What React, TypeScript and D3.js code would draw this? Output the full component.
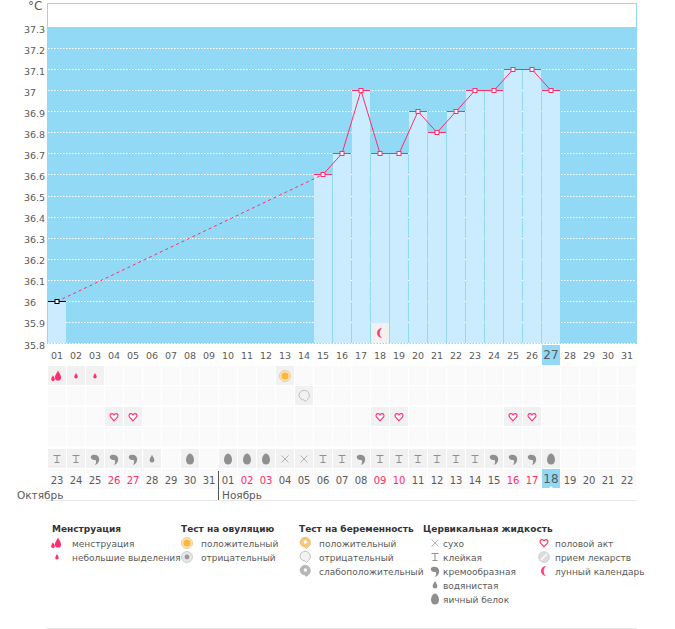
import React from "react";
import * as d3 from "d3";

const days = d3.range(1, 32);
const dayLabels = days.map(d => String(d).padStart(2, "0"));
const yTicks = [37.3, 37.2, 37.1, 37, 36.9, 36.8, 36.7, 36.6, 36.5, 36.4, 36.3, 36.2, 36.1, 36, 35.9, 35.8];

// measured temperatures, only on the days that have one
const tempDays = [1, 15, 16, 17, 18, 19, 20, 21, 22, 23, 24, 25, 26, 27];
const tempValues = [36, 36.6, 36.7, 37, 36.7, 36.7, 36.9, 36.8, 36.9, 37, 37, 37.1, 37.1, 37];

const calendarLabels = ["23", "24", "25", "26", "27", "28", "29", "30", "31", "01", "02", "03", "04", "05", "06", "07", "08", "09", "10", "11", "12", "13", "14", "15", "16", "17", "18", "19", "20", "21", "22"];
const redDays = [4, 5, 11, 12, 18, 19, 25, 26];
const todayDay = 27;
const moonDay = 18;

const row1Icons: [number, string][] = [[1, "flow"], [2, "spot"], [3, "spot"], [13, "ovuPos"]];
const row2Icons: [number, string][] = [[14, "pregNeg"]];
const row3Icons: [number, string][] = [[4, "heart"], [5, "heart"], [18, "heart"], [19, "heart"], [25, "heart"], [26, "heart"]];
const row4Icons: [number, string][] = [];
const row5Icons: [number, string][] = [
  [1, "sticky"], [2, "sticky"], [3, "creamy"], [4, "creamy"], [5, "creamy"], [6, "watery"], [8, "egg"],
  [10, "egg"], [11, "egg"], [12, "egg"], [13, "dry"], [14, "dry"], [15, "sticky"], [16, "sticky"], [17, "creamy"],
  [18, "sticky"], [19, "sticky"], [20, "sticky"], [21, "sticky"], [22, "sticky"], [23, "sticky"], [24, "creamy"],
  [25, "creamy"], [26, "creamy"], [27, "egg"],
];

const legendHeads = ["Менструация", "Тест на овуляцию", "Тест на беременность", "Цервикальная жидкость"];
const legendCols: [string, string][][] = [
  [["flow", "менструация"], ["spot", "небольшие выделения"]],
  [["ovuPos", "положительный"], ["ovuNeg", "отрицательный"]],
  [["pregPos", "положительный"], ["pregNeg", "отрицательный"], ["pregWeak", "слабоположительный"]],
  [["dry", "сухо"], ["sticky", "клейкая"], ["creamy", "кремообразная"], ["watery", "водянистая"], ["egg", "яичный белок"]],
  [["heart", "половой акт"], ["pill", "прием лекарств"], ["moon", "лунный календарь"]],
];

const W = 675;
const H = 629;
const BLUE = "#92d9f5";
const BAR = "#cbecfe";
const PINK = "#ff2d6b";
const TEXT = "#5a5a5a";
const GREY = "#8f8f8f";
const FONT = "'DejaVu Sans', sans-serif";

const x = d3.scaleBand<number>().domain(days).range([47, 636]);
const y = d3.scaleLinear().domain([35.8, 37.3]).range([343, 27]);
const cx = (d: number) => (x(d) as number) + 10;
const crisp = (v: number) => Math.round(v) + 0.5;

const line = d3.line<number>()
  .x((_, i) => cx(tempDays[i]))
  .y(v => crisp(y(v)));

const rowTops = [366, 386, 407, 427, 449];
const rowIcons = [row1Icons, row2Icons, row3Icons, row4Icons, row5Icons];
const dateTop = 469;
const legendX = [52, 181, 299, 423];
const legendIconX = [57, 187, 305, 435, 544];
const legendTextX = [72, 201, 319, 443, 555];
const legendRows = d3.scalePoint<number>().domain(d3.range(5)).range([543, 599]);

const dropPath = "M0,-5 C1,-2.5 2.8,-1 2.8,1.4 A2.8,2.8 0 0 1 -2.8,1.4 C-2.8,-1 -1,-2.5 0,-5Z";

function Icon({ kind, px, py }: { kind: string; px: number; py: number }) {
  const t = `translate(${px},${py})`;
  switch (kind) {
    case "flow":
      return (
        <g transform={t} fill={PINK}>
          <path d={dropPath} transform="translate(1,0) scale(1.1)" />
          <path d={dropPath} transform="translate(-4,2.4) scale(0.65)" />
        </g>
      );
    case "spot":
      return <path transform={`${t} scale(0.62)`} fill={PINK} d={dropPath} />;
    case "ovuPos":
      return (
        <g transform={t}>
          <circle r={5.5} fill="#fbe6bd" stroke="#e2c58e" strokeWidth={0.8} />
          <circle r={3.6} fill="#fbb73e" />
        </g>
      );
    case "ovuNeg":
      return (
        <g transform={t}>
          <circle r={5.5} fill="#e6e6e6" stroke="#c4c4c4" strokeWidth={0.8} />
          <circle r={2.4} fill="#9a9a9a" />
        </g>
      );
    case "pregPos":
    case "pregNeg":
    case "pregWeak": {
      const fill = kind === "pregPos" ? "#fbc878" : kind === "pregWeak" ? "#b5b5b5" : "#f2f2f2";
      const stroke = kind === "pregPos" ? "#dcbb84" : "#b9b9b9";
      return (
        <g transform={t}>
          <path d="M-5,-1 A5.2,5.2 0 1 1 3.5,3.5 L1.5,5.5 L0,4 A5.2,5.2 0 0 1 -5,-1Z" fill={fill} stroke={stroke} strokeWidth={0.9} />
          {kind !== "pregNeg" && <circle r={1.8} cx={0.4} cy={-1} fill="#fff" />}
        </g>
      );
    }
    case "heart":
      return (
        <path
          transform={t}
          fill="#fff"
          stroke={PINK}
          strokeWidth={1.1}
          d="M0,3.8 L-3.4,0.2 C-4.8,-1.6 -3.6,-3.4 -2,-3.4 C-1,-3.4 -0.3,-2.8 0,-2.1 C0.3,-2.8 1,-3.4 2,-3.4 C3.6,-3.4 4.8,-1.6 3.4,0.2Z"
        />
      );
    case "moon":
      return <path transform={t} fill={PINK} opacity={0.9} d="M2,-5 A5,5 0 1 0 2,5 A6.5,6.5 0 0 1 2,-5Z" />;
    case "pill":
      return (
        <g transform={t}>
          <circle r={5.5} fill="#dcdcdc" stroke="#c8c8c8" strokeWidth={0.6} />
          <path d="M-3,3 L3,-3" stroke="#fff" strokeWidth={1.4} />
        </g>
      );
    case "dry":
      return <path transform={t} d="M-3.5,-3.5 L3.5,3.5 M3.5,-3.5 L-3.5,3.5" stroke="#a2a2a2" strokeWidth={0.8} fill="none" />;
    case "sticky":
      return <path transform={t} d="M-3.5,-3.5 H3.5 M-2.5,3.5 H2.5 M0,-3.5 V3.5" stroke={GREY} strokeWidth={1} fill="none" />;
    case "creamy":
      return (
        <path
          transform={t}
          fill={GREY}
          d="M-4,-3 C-2,-5 3,-5 4,-1 C4.8,2 3,5 0,6 C1.5,3.5 1.3,2 0.5,1 C-1.5,1.5 -5,0 -4,-3Z"
        />
      );
    case "watery":
      return <path transform={`${t} scale(0.85)`} fill={GREY} d={dropPath} />;
    case "egg":
      return <path transform={t} fill={GREY} d="M0,-5.5 C2.5,-5.5 4,-1.5 4,1 A4,4.5 0 0 1 -4,1 C-4,-1.5 -2.5,-5.5 0,-5.5Z" />;
    default:
      return null;
  }
}

export default function App() {
  const bars = tempDays.map((d, i) => ({ d, v: tempValues[i] }));
  const solidPath = line(tempValues.slice(1).map((v, i) => v)) as string;
  const textBase = { fontFamily: FONT, fill: TEXT };

  return (
    <svg width={W} height={H} viewBox={`0 0 ${W} ${H}`} style={{ position: "absolute", left: 0, top: 0, background: "#fff" }}>
      <rect x={47.5} y={3.5} width={589} height={340} fill="#fff" stroke={BLUE} />
      <rect x={47} y={27} width={590} height={317} fill={BLUE} />

      <text x={28} y={10} fontSize={12} {...textBase}>°C</text>
      {yTicks.map(t => (
        <g key={t}>
          <text x={24} y={y(t) + 5.5} fontSize={9.5} {...textBase}>{String(t)}</text>
          {t < 37.3 && (
            <line x1={48} x2={636} y1={crisp(y(t))} y2={crisp(y(t))} stroke="#fff" strokeDasharray="1.5 1.5" />
          )}
        </g>
      ))}

      {bars.map(b => (
        <rect key={b.d} x={(x(b.d) as number) + 1} y={crisp(y(b.v))} width={18} height={343 - crisp(y(b.v))} fill={BAR} />
      ))}

      <rect x={(x(moonDay) as number) + 1} y={323} width={18} height={20} fill="#f1f1f1" />
      <Icon kind="moon" px={cx(moonDay)} py={333} />

      {bars.map(b => (
        <line
          key={b.d}
          x1={(x(b.d) as number) + 1}
          x2={(x(b.d) as number) + 19}
          y1={crisp(y(b.v))}
          y2={crisp(y(b.v))}
          stroke={b.d === 1 ? "#000" : PINK}
        />
      ))}

      <line x1={cx(1)} x2={cx(15)} y1={crisp(y(36))} y2={crisp(y(36.6))} stroke={PINK} strokeDasharray="3 3" />
      <path d={d3.line<number>().x((_, i) => cx(tempDays[i + 1])).y(v => crisp(y(v)))(tempValues.slice(1)) as string} fill="none" stroke={PINK} />
      {bars.map(b => (
        <rect
          key={b.d}
          x={cx(b.d) - 2}
          y={crisp(y(b.v)) - 2}
          width={4}
          height={4}
          fill="#fff"
          stroke={b.d === 1 ? "#000" : PINK}
        />
      ))}

      <rect x={(x(todayDay) as number) + 1} y={345} width={18} height={20} fill={BLUE} />
      {days.map((d, i) => (
        <text
          key={d}
          x={cx(d)}
          y={d === todayDay ? 359 : 358.5}
          textAnchor="middle"
          fontSize={d === todayDay ? 12 : 9.5}
          {...textBase}
        >
          {dayLabels[i]}
        </text>
      ))}

      {rowTops.map((top, r) => {
        const icons = new Map(rowIcons[r]);
        return days.map(d => {
          const kind = icons.get(d);
          return (
            <g key={`${r}-${d}`}>
              <rect x={(x(d) as number) + 1} y={top} width={18} height={19} fill={kind ? "#f1f1f1" : "#fafafa"} />
              {kind && <Icon kind={kind} px={cx(d)} py={top + 10} />}
            </g>
          );
        });
      })}

      {days.map((d, i) => (
        <g key={d}>
          <rect
            x={(x(d) as number) + 1}
            y={dateTop}
            width={18}
            height={d === todayDay ? 19 : 20}
            fill={d === todayDay ? BLUE : "#fafafa"}
          />
          <text
            x={cx(d)}
            y={d === todayDay ? 483 : 484}
            textAnchor="middle"
            fontSize={d === todayDay ? 12 : 10}
            {...textBase}
            fill={redDays.includes(d) ? PINK : TEXT}
          >
            {calendarLabels[i]}
          </text>
        </g>
      ))}
      <path transform={`translate(${cx(todayDay)},488)`} d="M-2,0 L0,-2 L2,0Z" fill="#fff" />

      <line x1={218.5} x2={218.5} y1={471} y2={500} stroke="#555" />
      <line x1={46} x2={637} y1={500.5} y2={500.5} stroke="#e8e8e8" />
      <text x={17} y={499} fontSize={10.5} {...textBase}>Октябрь</text>
      <text x={222} y={499} fontSize={10.5} {...textBase}>Ноябрь</text>

      {legendHeads.map((h, i) => (
        <text key={h} x={legendX[i]} y={532} fontSize={9} fontWeight={600} fontFamily={FONT} fill="#333">{h}</text>
      ))}
      {legendCols.map((col, c) =>
        col.map(([kind, label], r) => (
          <g key={`${c}-${r}`}>
            <Icon kind={kind} px={legendIconX[c]} py={legendRows(r) as number} />
            <text x={legendTextX[c]} y={(legendRows(r) as number) + 3.5} fontSize={9} {...textBase}>{label}</text>
          </g>
        ))
      )}
      <line x1={46} x2={637} y1={628.5} y2={628.5} stroke="#e8e8e8" />
    </svg>
  );
}
